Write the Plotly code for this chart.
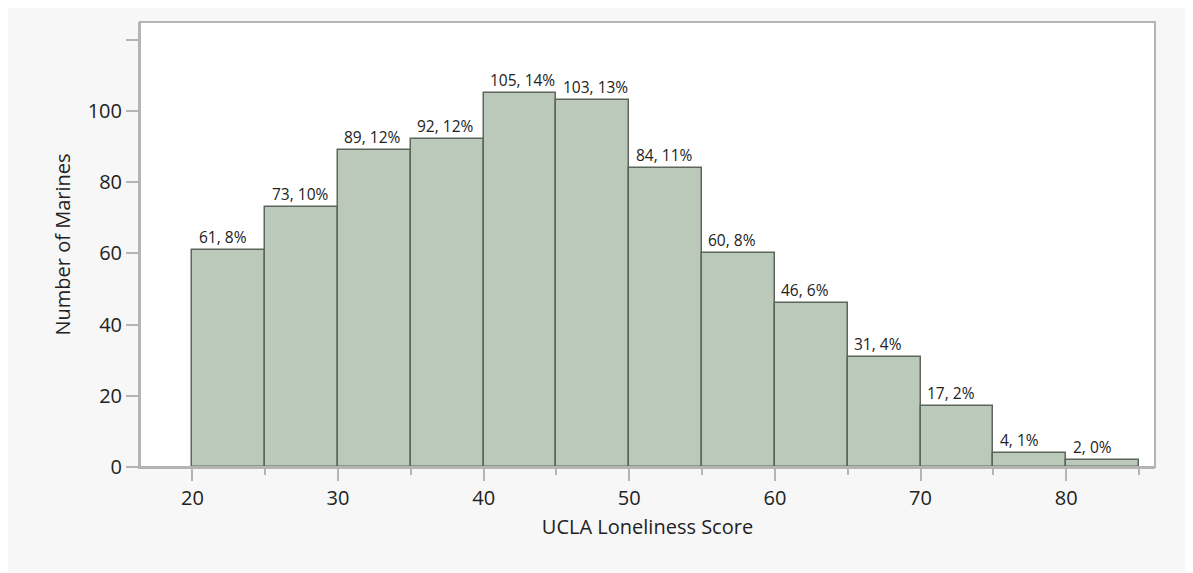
import plotly.graph_objects as go

bin_edges = [20, 25, 30, 35, 40, 45, 50, 55, 60, 65, 70, 75, 80, 85]
counts = [61, 73, 89, 92, 105, 103, 84, 60, 46, 31, 17, 4, 2]
y_ticks = [0, 20, 40, 60, 80, 100, 120]
y_tick_labels = ["0", "20", "40", "60", "80", "100", ""]
x_ticks = [20, 30, 40, 50, 60, 70, 80]

total = sum(counts)
centers = [(a + b) / 2 for a, b in zip(bin_edges[:-1], bin_edges[1:])]
widths = [b - a for a, b in zip(bin_edges[:-1], bin_edges[1:])]
labels = [f"{c}, {round(100 * c / total)}%" for c in counts]

FONT = "Open Sans, Noto Sans, sans-serif"

fig = go.Figure()
fig.add_trace(go.Bar(x=centers, y=counts, width=widths,
                     marker=dict(color="#bac9ba", line=dict(color="#5c665c", width=1.5)),
                     hoverinfo="x+y", showlegend=False))

for left, c, lab in zip(bin_edges[:-1], counts, labels):
    fig.add_annotation(x=left + 0.3, y=c, text=lab, showarrow=False,
                       xanchor="left", yanchor="bottom", yshift=0,
                       font=dict(family=FONT, size=15.5, color="#222222"))

# plot frame
fig.add_shape(type="rect", xref="paper", yref="paper", x0=0, x1=1, y0=0, y1=1,
              line=dict(color="#b4b4b4", width=2), layer="above")

fig.update_layout(
    width=1185, height=565,
    margin=dict(l=132, r=38, t=14, b=106),
    paper_bgcolor="#f7f7f7", plot_bgcolor="white",
    font=dict(family=FONT, color="#222222"),
    bargap=0,
    xaxis=dict(range=[16.4, 86.1], tickvals=x_ticks, ticks="outside", ticklen=12,
               tickcolor="#b4b4b4", tickwidth=2, showgrid=False, zeroline=False,
               showline=True, linecolor="#b4b4b4", linewidth=2,
               tickfont=dict(size=20),
               minor=dict(tickvals=[25, 35, 45, 55, 65, 75, 85], ticks="outside",
                          ticklen=6, tickcolor="#b4b4b4", tickwidth=2),
               title=dict(text="UCLA Loneliness Score", font=dict(size=20), standoff=10)),
    yaxis=dict(range=[0, 125], tickvals=y_ticks, ticktext=y_tick_labels,
               ticks="outside", ticklen=12, tickcolor="#b4b4b4", tickwidth=2,
               showgrid=False, zeroline=False, showline=True, linecolor="#b4b4b4",
               linewidth=2, tickfont=dict(size=20),
               title=dict(text="Number of Marines", font=dict(size=20), standoff=12)),
)

fig.write_html("out.html")
